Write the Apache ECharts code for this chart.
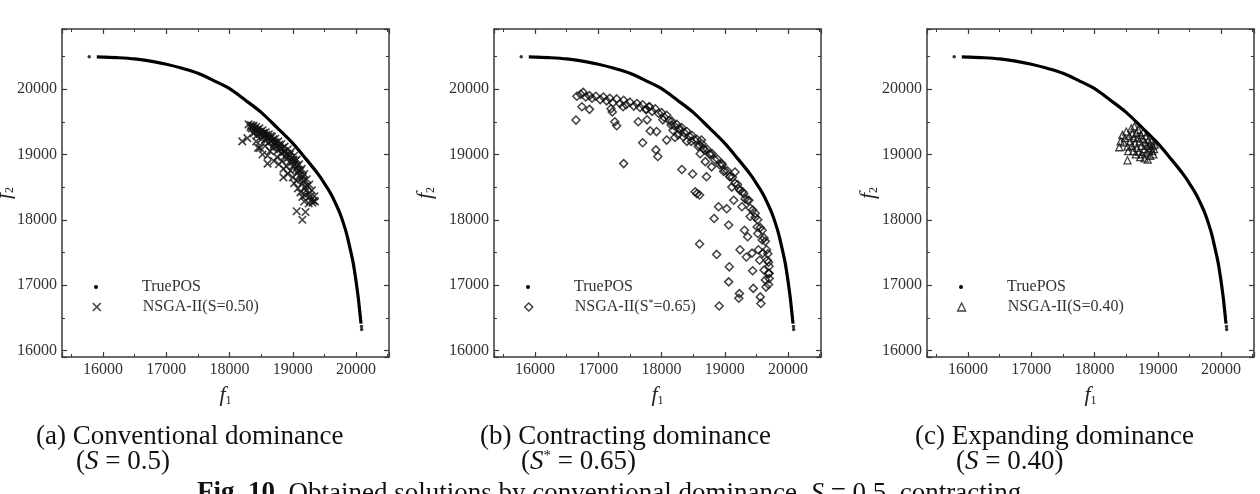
<!DOCTYPE html>
<html>
<head>
<meta charset="utf-8">
<script src="https://cdn.jsdelivr.net/npm/echarts@6/dist/echarts.min.js"></script>
<style>
  html, body { margin: 0; padding: 0; background: #fff; }
  #main { width: 1260px; height: 494px; }
</style>
</head>
<body>
<div id="main"></div>
<script>
// true Pareto front, same in all three panels
var truePosCurve = [
  [15900, 20492], [16000, 20490], [16250, 20480], [16500, 20462], [16750, 20428],
  [17000, 20380], [17250, 20318], [17500, 20243], [17750, 20130], [18000, 20006],
  [18250, 19830], [18500, 19644], [18750, 19410], [19000, 19169], [19200, 18940],
  [19400, 18699], [19500, 18555], [19600, 18399], [19700, 18200], [19750, 18084],
  [19800, 17945], [19850, 17784], [19900, 17580], [19950, 17359], [19990, 17120],
  [20030, 16839], [20055, 16620], [20070, 16479], [20078, 16410]
];
var truePosDots = [[15780, 20495], [20085, 16365], [20087, 16320]];

// (a) conventional dominance S=0.50
var convPoints = [
  [18300, 19460], [18340, 19450], [18380, 19440], [18420, 19420], [18470, 19400], [18520, 19370],
  [18570, 19340], [18620, 19310], [18670, 19270], [18720, 19240], [18770, 19200], [18820, 19160],
  [18870, 19120], [18920, 19080], [18970, 19040], [19020, 18980], [19060, 18920], [19100, 18850],
  [19140, 18780], [19180, 18700], [19220, 18620], [19260, 18540], [19300, 18450], [19340, 18360],
  [18350, 19400], [18400, 19380], [18450, 19350], [18380, 19320], [18430, 19290], [18480, 19310],
  [18530, 19280], [18500, 19230], [18560, 19220], [18600, 19250], [18620, 19180], [18660, 19200],
  [18700, 19150], [18680, 19100], [18740, 19120], [18760, 19060], [18800, 19080], [18820, 19020],
  [18860, 19040], [18880, 18980], [18900, 18930], [18940, 18960], [18960, 18900], [18990, 18880],
  [19000, 18820], [19030, 18850], [19050, 18780], [19070, 18720], [19090, 18760], [19110, 18680],
  [19130, 18620], [19150, 18560], [19170, 18600], [19190, 18500], [19210, 18450], [19230, 18520],
  [19250, 18400], [19270, 18350], [19290, 18300], [19310, 18260], [19330, 18290],
  [18330, 19420], [18360, 19430], [18390, 19400], [18410, 19360], [18440, 19380], [18460, 19330],
  [18490, 19350], [18510, 19320], [18540, 19330], [18550, 19290], [18580, 19300], [18590, 19260],
  [18610, 19270], [18640, 19240], [18650, 19280], [18690, 19230], [18710, 19190], [18730, 19180],
  [18780, 19150], [18790, 19110], [18840, 19100], [18870, 19050], [18910, 19010], [18950, 19000],
  [18980, 18950], [19010, 18920], [19040, 18900], [19080, 18830], [19120, 18750], [19160, 18660],
  [18420, 19200], [18450, 19100], [18520, 19000], [18560, 19130], [18600, 18980], [18640, 19050],
  [18700, 18900], [18750, 18960], [18780, 18850], [18830, 18900], [18850, 18780], [18900, 18820],
  [18920, 18700], [18960, 18750], [19000, 18650], [19020, 18560], [19060, 18600], [19080, 18480],
  [19120, 18420], [19150, 18350], [19180, 18280], [19200, 18380], [19250, 18250],
  [18200, 19200], [18280, 19250], [18600, 18860], [18850, 18650], [19060, 18130], [19200, 18120],
  [19150, 18000], [19350, 18280], [18480, 19100]
];

// (b) contracting dominance S*=0.65
var contrPoints = [
  [16660, 19890], [16720, 19920], [16760, 19950], [16800, 19880], [16860, 19900], [16900, 19860],
  [16960, 19890], [17030, 19840], [17080, 19880], [17130, 19820], [17180, 19860], [17230, 19790],
  [17290, 19850], [17340, 19780], [17400, 19830], [17440, 19760], [17500, 19800], [17560, 19740],
  [17610, 19780], [17660, 19720], [17700, 19760], [17760, 19690], [17800, 19730], [17850, 19660],
  [17900, 19700], [17950, 19630], [18000, 19640], [18040, 19570], [18080, 19600], [18120, 19520],
  [18160, 19510], [18200, 19440], [18240, 19460], [18280, 19400], [18320, 19410], [18360, 19330],
  [18400, 19350], [18440, 19280], [18480, 19290], [18520, 19220], [18560, 19230], [18600, 19140],
  [18640, 19160], [18680, 19070], [18720, 19080], [18760, 19000], [18800, 19010], [18840, 18920],
  [18880, 18930], [18920, 18840], [18960, 18840], [19000, 18750], [19040, 18750], [19080, 18660],
  [19120, 18650], [19160, 18560], [19200, 18540], [19240, 18450], [19280, 18430], [19320, 18320],
  [19360, 18300], [19400, 18180], [19440, 18150], [19480, 18040], [19520, 18000], [19560, 17880],
  [19590, 17840], [19620, 17720], [19640, 17670], [19660, 17540], [19680, 17480], [19690, 17350],
  [19700, 17290], [19700, 17180], [19700, 17100], [19690, 17010],
  [16646, 19526], [16740, 19730], [16860, 19690], [17200, 19700], [17220, 19650], [17260, 19500],
  [17290, 19440], [17390, 19730], [17400, 18860], [17630, 19500], [17700, 19180], [17750, 19690],
  [17770, 19530], [17810, 19730], [17820, 19360], [17920, 19350], [17910, 19070], [17940, 18970],
  [18020, 19530], [18080, 19220], [18150, 19450], [18180, 19370], [18210, 19260], [18260, 19300],
  [18290, 19370], [18320, 18770], [18340, 19270], [18400, 19200], [18470, 19200], [18490, 18700],
  [18530, 18430], [18560, 18400], [18600, 18380], [18600, 17630], [18580, 19120], [18610, 19010],
  [18630, 19220], [18660, 19090], [18690, 18890], [18710, 18660], [18770, 19010], [18790, 18810],
  [18830, 18020], [18870, 17470], [18900, 18200], [18910, 16680], [18950, 18860], [18980, 18740],
  [19030, 18170], [19060, 17920], [19070, 17280], [19060, 17050], [19080, 18660], [19110, 18500],
  [19140, 18300], [19160, 18730], [19220, 18480], [19240, 17540], [19230, 16870], [19220, 16800],
  [19270, 18200], [19300, 18400], [19310, 17840], [19340, 17430], [19360, 17740], [19380, 18300],
  [19400, 18050], [19430, 17490], [19440, 17220], [19450, 16950], [19480, 18100], [19510, 17890],
  [19520, 17790], [19530, 17540], [19550, 17380], [19560, 16820], [19570, 16720], [19590, 17690],
  [19600, 17490], [19620, 17230], [19640, 17080], [19650, 16970], [19670, 17380], [19690, 17180]
];

// (c) expanding dominance S=0.40
var expPoints = [
  [18390, 19110], [18410, 19200], [18440, 19300], [18460, 19180], [18480, 19250], [18500, 19350],
  [18520, 19120], [18530, 19050], [18550, 19280], [18560, 19200], [18580, 19400], [18590, 19130],
  [18600, 19320], [18610, 19050], [18620, 19250], [18630, 19430], [18640, 19170], [18650, 19000],
  [18660, 19330], [18670, 19100], [18680, 19260], [18690, 19380], [18700, 19040], [18710, 19200],
  [18720, 18960], [18730, 19300], [18740, 19130], [18750, 19000], [18760, 19240], [18770, 19340],
  [18780, 19080], [18790, 18940], [18800, 19180], [18810, 19280], [18820, 19030], [18830, 19130],
  [18840, 18920], [18850, 19220], [18860, 19060], [18870, 19160], [18880, 18980], [18890, 19100],
  [18900, 19200], [18910, 19050], [18920, 19130], [18930, 19000], [18940, 19080], [18950, 19150],
  [18520, 18910]
];

var seriesNames = ['NSGA-II(S=0.50)', 'NSGA-II(S*=0.65)', 'NSGA-II(S=0.40)'];
var gridLefts = [62, 494, 927];
var yNameGaps = [46, 57, 47];

var FONT = '"Liberation Serif", "Times New Roman", serif';
var INK = '#3a3a3a';

var panels = [
  { points: convPoints, symbol: 'path://M0,0L10,10M10,0L0,10', size: 7.5, width: 1.6 },
  { points: contrPoints, symbol: 'diamond', size: 8, width: 1.5 },
  { points: expPoints, symbol: 'triangle', size: 7, width: 1.3 }
];

function numFmt(v) { return String(v); }

var nameRich = {
  f: { fontFamily: FONT, fontStyle: 'italic', fontSize: 22, lineHeight: 24, color: '#222', verticalAlign: 'middle' },
  s: { fontFamily: FONT, fontSize: 12, lineHeight: 12, color: '#222', verticalAlign: 'bottom' }
};

function xAxisFor(i, pos) {
  var main = pos === 'bottom';
  return {
    type: 'value', gridIndex: i, position: pos,
    min: 15350, max: 20520, splitNumber: 5,
    axisLine: { show: true, onZero: false, lineStyle: { color: INK, width: 1.5 } },
    axisTick: { show: true, inside: true, length: 5, lineStyle: { color: INK, width: 1.2 } },
    minorTick: { show: true, splitNumber: 2, length: 3, lineStyle: { color: INK, width: 1 } },
    splitLine: { show: false },
    axisLabel: {
      show: main, formatter: numFmt, margin: 5, showMinLabel: false, showMaxLabel: false,
      fontFamily: FONT, fontSize: 16, color: '#333'
    },
    name: main ? '{f|f}{s|1}' : '',
    nameLocation: 'middle', nameGap: 26, nameMoveOverlap: false,
    nameTextStyle: { rich: nameRich }
  };
}

function yAxisFor(i, pos) {
  var main = pos === 'left';
  return {
    type: 'value', gridIndex: i, position: pos,
    min: 15900, max: 20920, splitNumber: 5,
    axisLine: { show: true, onZero: false, lineStyle: { color: INK, width: 1.5 } },
    axisTick: { show: true, inside: true, length: 5, lineStyle: { color: INK, width: 1.2 } },
    minorTick: { show: true, splitNumber: 2, length: 3, lineStyle: { color: INK, width: 1 } },
    splitLine: { show: false },
    axisLabel: {
      show: main, formatter: numFmt, margin: 5, showMinLabel: false, showMaxLabel: false,
      fontFamily: FONT, fontSize: 16, color: '#333'
    },
    name: main ? '{f|f}{s|2}' : '',
    nameLocation: 'middle', nameGap: yNameGaps[i], nameRotate: 90, nameMoveOverlap: false,
    nameTextStyle: { rich: nameRich }
  };
}

var grids = [], xAxes = [], yAxes = [], series = [], legends = [];

panels.forEach(function (p, i) {
  grids.push({ left: gridLefts[i], top: 29, width: 327, height: 328, outerBoundsMode: 'none', containLabel: false });
  xAxes.push(xAxisFor(i, 'bottom'), xAxisFor(i, 'top'));
  yAxes.push(yAxisFor(i, 'left'), yAxisFor(i, 'right'));

  series.push({
    name: 'TruePOS', type: 'line', xAxisIndex: i * 2, yAxisIndex: i * 2,
    data: truePosCurve, showSymbol: false, smooth: 0.3,
    lineStyle: { color: '#000', width: 3.2 }, silent: true
  });
  series.push({
    name: 'TruePOS', type: 'scatter', xAxisIndex: i * 2, yAxisIndex: i * 2,
    data: truePosDots, symbol: 'circle', symbolSize: 3.5,
    itemStyle: { color: '#000' }, silent: true
  });
  series.push({
    name: seriesNames[i], type: 'scatter', xAxisIndex: i * 2, yAxisIndex: i * 2,
    data: p.points, symbol: p.symbol, symbolSize: p.size,
    itemStyle: { color: 'transparent', borderColor: '#111', borderWidth: p.width },
    silent: true
  });

  var cx = gridLefts[i] + 34;
  var textX = gridLefts[i] + 80;
  // dot legend row
  legends.push({
    selectedMode: false, orient: 'vertical', padding: 0,
    left: cx - 2, top: 287 - 9,
    itemWidth: 4, itemHeight: 4,
    data: [{ name: 'TruePOS', icon: 'circle', itemStyle: { color: '#000', borderWidth: 0 } }],
    textStyle: { fontFamily: FONT, fontSize: 16, lineHeight: 18, color: '#333',
      padding: [0, 0, 0, textX - (cx + 2 + 5)] }
  });
  // marker legend row
  legends.push({
    selectedMode: false, orient: 'vertical', padding: 0,
    left: cx - 4, top: 307 - 9,
    itemWidth: 8, itemHeight: 8,
    data: [{ name: seriesNames[i], icon: p.symbol,
      itemStyle: { color: 'transparent', borderColor: '#111', borderWidth: p.width } }],
    formatter: function (n) { return n.replace('S*', 'S{u|*}'); },
    textStyle: { fontFamily: FONT, fontSize: 16, lineHeight: 18, color: '#333',
      padding: [0, 0, 0, textX - (cx + 4 + 5)],
      rich: { u: { fontFamily: FONT, fontSize: 10, lineHeight: 10, verticalAlign: 'top', color: '#333' } } }
  });
});

// captions under the panels
var CAP = 27;
var capRich = {
  i: { fontFamily: FONT, fontSize: CAP, fontStyle: 'italic', fill: '#111' },
  u: { fontFamily: FONT, fontSize: 15, verticalAlign: 'top', fill: '#111' },
  b: { fontFamily: FONT, fontSize: CAP, fontWeight: 'bold', fill: '#111' }
};
var captions = [
  { x: 36, y: 437, text: '(a) Conventional dominance' },
  { x: 76, y: 462, text: '({i|S} = 0.5)' },
  { x: 480, y: 437, text: '(b) Contracting dominance' },
  { x: 521, y: 462, text: '({i|S}{u|*} = 0.65)' },
  { x: 915, y: 437, text: '(c) Expanding dominance' },
  { x: 956, y: 462, text: '({i|S} = 0.40)' },
  { x: 197, y: 480, text: '{b|Fig. 10}  Obtained solutions by conventional dominance, {i|S} = 0.5, contracting', top: true }
];
var graphics = captions.map(function (c) {
  return {
    type: 'text', x: c.x, y: c.y, silent: true,
    style: {
      text: c.text, rich: capRich, fill: '#111',
      fontFamily: FONT, fontSize: CAP,
      verticalAlign: c.top ? 'top' : 'middle', align: 'left'
    }
  };
});

var chart = echarts.init(document.getElementById('main'), null, { renderer: 'canvas' });
chart.setOption({
  animation: false,
  backgroundColor: '#fff',
  grid: grids,
  xAxis: xAxes,
  yAxis: yAxes,
  legend: legends,
  series: series,
  graphic: graphics
});
</script>
</body>
</html>
